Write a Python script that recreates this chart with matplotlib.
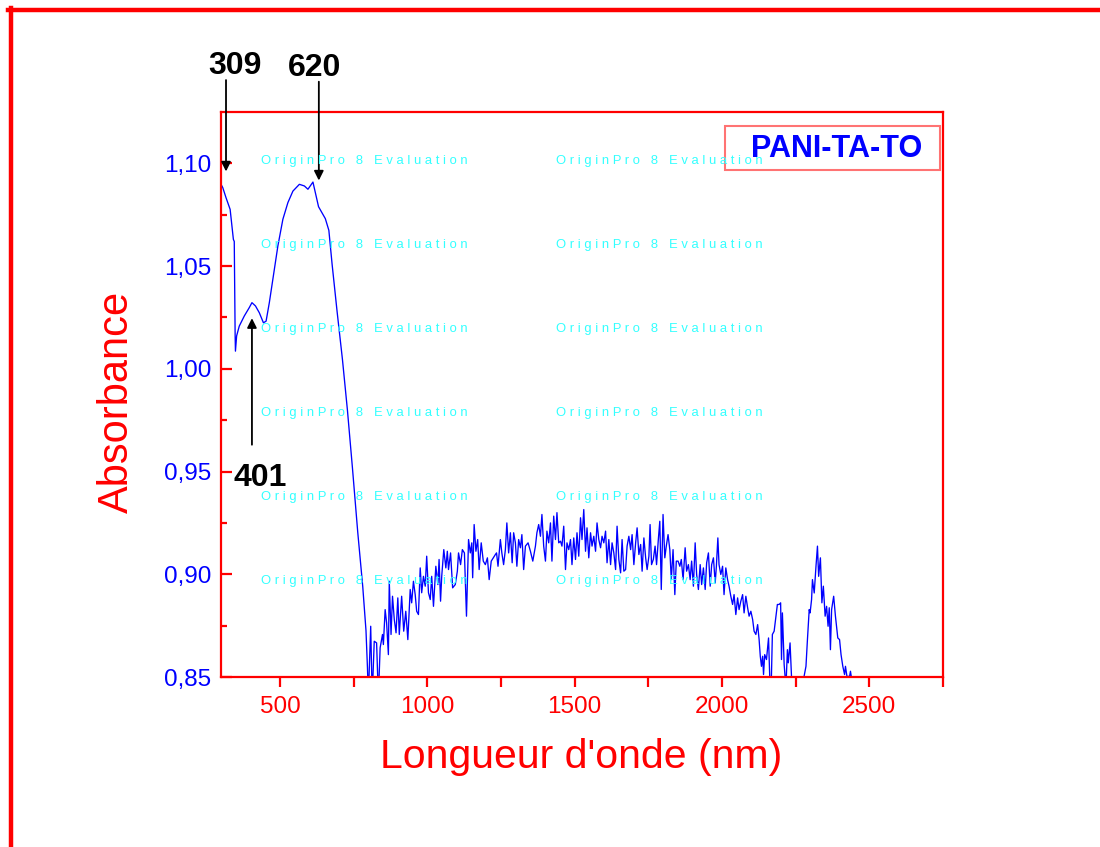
import matplotlib.pyplot as plt
from matplotlib.lines import Line2D
from matplotlib.patches import Rectangle

plt.rcParams['font.family'] = ['Liberation Sans', 'DejaVu Sans']

# UV-visible part of the spectrum
wl_vis = [300, 306, 317, 331, 337, 342, 345, 348, 349, 353, 362, 379, 396, 405,
          417, 430, 444, 453, 464, 476, 493, 510, 527, 544, 566, 583, 595, 612,
          631, 654, 666, 677, 694, 712, 729, 746, 764, 781, 792, 797, 800]
abs_vis = [1.0898, 1.0882, 1.0833, 1.0776, 1.0695, 1.0630, 1.0620, 1.0159, 1.0086,
           1.0160, 1.0208, 1.0257, 1.0298, 1.0322, 1.0306, 1.0273, 1.0224, 1.0232,
           1.0322, 1.0435, 1.0598, 1.0728, 1.0809, 1.0865, 1.0898, 1.0890, 1.0874,
           1.0909, 1.0789, 1.0731, 1.0674, 1.0509, 1.0278, 1.0047, 0.9799, 0.9518,
           0.9205, 0.8940, 0.8726, 0.8544, 0.8400]

# near infrared part (noisy)
wl_nir = [808, 813, 820, 828, 834, 840, 848, 851, 857, 862, 868, 871, 877, 882,
          888, 894, 900, 905, 913, 920, 927, 934, 942, 947, 953, 959, 964, 970,
          976, 981, 987, 993, 998, 1004, 1010, 1015, 1021, 1029, 1036, 1040, 1045,
          1049, 1056, 1063, 1068, 1072, 1079, 1086, 1095, 1102, 1106, 1113, 1119,
          1126, 1133, 1140, 1146, 1151, 1154, 1159, 1165, 1171, 1176, 1183, 1190,
          1197, 1204, 1210, 1217, 1224, 1231, 1235, 1240,
          1248, 1253, 1259, 1265, 1270, 1276, 1282, 1288, 1293, 1299, 1304, 1310,
          1316, 1321, 1327, 1333, 1342, 1350, 1358, 1367, 1372, 1378, 1384, 1389,
          1395, 1401, 1406, 1412, 1418, 1423, 1429, 1435, 1440, 1446, 1452, 1457,
          1463, 1469, 1474, 1480, 1486, 1491, 1497, 1503, 1508, 1514, 1520, 1525,
          1531, 1537, 1542, 1548, 1554, 1559, 1565, 1571, 1576, 1582, 1588, 1593,
          1599, 1605, 1610, 1616, 1622, 1627, 1633, 1639, 1644, 1650, 1656, 1661,
          1667,
          1673, 1678, 1684, 1690, 1695, 1701, 1707, 1712, 1718, 1724, 1729, 1735,
          1741, 1746, 1752, 1756, 1761, 1767, 1773, 1778, 1784, 1789, 1794, 1800,
          1806, 1811, 1817, 1823, 1828, 1834, 1840, 1845, 1851, 1857, 1862, 1868,
          1875, 1880, 1886, 1892, 1897, 1903, 1909, 1914, 1920, 1926, 1931, 1937,
          1943, 1948, 1954, 1960, 1965, 1971, 1977, 1981, 1986, 1990, 1996, 2002,
          2007, 2013, 2019, 2024, 2030, 2036, 2041, 2047, 2053, 2058, 2064, 2070,
          2075, 2081, 2087, 2092, 2098, 2104, 2109, 2115, 2121, 2126,
          2130, 2134, 2138, 2141, 2145, 2151, 2158, 2162, 2167, 2171, 2177, 2183,
          2188, 2194, 2199, 2202, 2205, 2211, 2217, 2222, 2225, 2231, 2239, 2265,
          2285, 2290, 2296, 2299, 2304, 2307, 2313, 2319, 2324, 2328, 2334, 2339,
          2344, 2350, 2355, 2360, 2364, 2368, 2372, 2379, 2385, 2393, 2399, 2404,
          2410, 2416, 2419, 2424, 2433, 2436, 2440]
abs_nir = [0.8747, 0.8400, 0.8674, 0.8666, 0.8400, 0.8642, 0.8707, 0.8658, 0.8828,
           0.8763, 0.8609, 0.8966, 0.8707, 0.8893, 0.8780, 0.8715, 0.8885, 0.8707,
           0.8893, 0.8723, 0.8820, 0.8682, 0.8926, 0.8861, 0.8966, 0.8901, 0.8820,
           0.8804, 0.9031, 0.8910, 0.8990, 0.8942, 0.9088, 0.8910, 0.8877, 0.8990,
           0.8844, 0.9039, 0.8950, 0.9072, 0.8869, 0.8990, 0.9120, 0.9031, 0.9112,
           0.9023, 0.9104, 0.8934, 0.8950, 0.9015, 0.9104, 0.9047, 0.9120, 0.9104,
           0.8796, 0.9169, 0.9104, 0.9153, 0.8983, 0.9242, 0.9112, 0.9169, 0.9023,
           0.9153, 0.9064, 0.9047, 0.9080, 0.8974, 0.9064, 0.9080, 0.9096, 0.9104,
           0.9039,
           0.9169, 0.9104, 0.9047, 0.9120, 0.9250, 0.9104, 0.9202, 0.9056, 0.9202,
           0.9153, 0.9039, 0.9169, 0.9129, 0.9193, 0.9023, 0.9137, 0.9153, 0.9112,
           0.9064, 0.9137, 0.9202, 0.9242, 0.9185, 0.9291, 0.9137, 0.9064, 0.9210,
           0.9153, 0.9250, 0.9064, 0.9283, 0.9169, 0.9300, 0.9153, 0.9161, 0.9137,
           0.9234, 0.9023, 0.9153, 0.9120, 0.9169, 0.9047, 0.9177, 0.9072, 0.9202,
           0.9088, 0.9275, 0.9169, 0.9315, 0.9112, 0.9226, 0.9080, 0.9202, 0.9137,
           0.9185, 0.9112, 0.9250, 0.9169, 0.9129, 0.9185, 0.9153, 0.9210, 0.9056,
           0.9169, 0.9047, 0.9153, 0.9104, 0.9023, 0.9234, 0.9072, 0.9007, 0.9169,
           0.9015,
           0.9023, 0.9137, 0.9185, 0.9120, 0.9193, 0.9047, 0.9153, 0.9226, 0.9096,
           0.9145, 0.9015, 0.9177, 0.9080, 0.9023, 0.9088, 0.9242, 0.9047, 0.9072,
           0.9137, 0.9047, 0.9169, 0.9258, 0.8926, 0.9291, 0.9080, 0.9137, 0.9193,
           0.9120, 0.8974, 0.9120, 0.8901, 0.9064, 0.9064, 0.9039, 0.9072, 0.8974,
           0.9129, 0.9015, 0.9047, 0.8974, 0.9064, 0.8942, 0.9153, 0.8999, 0.8926,
           0.9047, 0.8950, 0.9031, 0.8926, 0.9056, 0.9104, 0.8942, 0.9047, 0.9080,
           0.8958, 0.9039, 0.9177, 0.9047, 0.8999, 0.9039, 0.8901, 0.9031, 0.8974,
           0.8942, 0.8893, 0.8853, 0.8901, 0.8804, 0.8885, 0.8828, 0.8869, 0.8901,
           0.8812, 0.8893, 0.8837, 0.8796, 0.8820, 0.8780, 0.8723, 0.8707, 0.8755,
           0.8682,
           0.8601, 0.8552, 0.8601, 0.8512, 0.8609, 0.8585, 0.8690, 0.8503, 0.8450,
           0.8707, 0.8723, 0.8796, 0.8853, 0.8853, 0.8861, 0.8585, 0.8812, 0.8560,
           0.8450, 0.8633, 0.8569, 0.8666, 0.8400, 0.8400, 0.8552, 0.8682, 0.8828,
           0.8812, 0.8877, 0.8974, 0.8909, 0.9039, 0.9137, 0.8990, 0.9080, 0.8861,
           0.8942, 0.8796, 0.8844, 0.8747, 0.8837, 0.8633, 0.8828, 0.8893, 0.8796,
           0.8690, 0.8682, 0.8609, 0.8552, 0.8512, 0.8552, 0.8503, 0.8503, 0.8528,
           0.8490]

x_ticks = [500, 1000, 1500, 2000, 2500]
x_tick_labels = ['500', '1000', '1500', '2000', '2500']
x_minor = [750, 1250, 1750, 2250, 2750]
y_ticks = [0.85, 0.90, 0.95, 1.00, 1.05, 1.10]
y_tick_labels = ['0,85', '0,90', '0,95', '1,00', '1,05', '1,10']
y_minor = [0.875, 0.925, 0.975, 1.025, 1.075]

W, H = 1100, 847


def fx(px):
    return px / W


def fy(py):
    return 1 - py / H


fig = plt.figure(figsize=(W / 100, H / 100), dpi=100)
ax = fig.add_axes([fx(221), fy(677), (943 - 221) / W, (677 - 112) / H])

ax.plot(wl_vis + wl_nir, abs_vis + abs_nir, color='#0000FF', lw=0.95)
ax.set_xlim(300, 2750)
ax.set_ylim(0.85, 1.125)

for s in ax.spines.values():
    s.set_color('red')
    s.set_linewidth(1.6)

ax.set_xticks(x_ticks, x_tick_labels)
ax.set_xticks(x_minor, minor=True)
ax.set_yticks(y_ticks, y_tick_labels)
ax.set_yticks(y_minor, minor=True)
ax.tick_params(axis='x', which='both', direction='out', length=7, width=1.6,
               color='red', labelcolor='red', labelsize=17.5, pad=7)
ax.tick_params(axis='y', which='major', direction='in', length=8, width=1.6,
               color='red', labelcolor='#0000FF', labelsize=17.5, pad=7)
ax.tick_params(axis='y', which='minor', direction='in', length=4.5, width=1.6,
               color='red')

# axis titles
fig.text(fx(581), fy(757), "Longueur d'onde (nm)", color='red', fontsize=29.5,
         ha='center', va='center')
fig.text(fx(117), fy(402), 'Absorbance', color='red', fontsize=30,
         rotation=90, ha='center', va='center')

# peak annotations
arrow = dict(arrowstyle='-|>', color='black', lw=1.3, mutation_scale=14)
ax.annotate('', xy=(317, 1.0947), xytext=(317, 1.1419), arrowprops=arrow,
            annotation_clip=False)
ax.annotate('', xy=(632, 1.0903), xytext=(632, 1.1411), arrowprops=arrow,
            annotation_clip=False)
ax.annotate('', xy=(405, 1.026), xytext=(405, 0.9617), arrowprops=arrow,
            annotation_clip=False)
ax.text(348, 1.1475, '309', fontsize=23, fontweight='bold', ha='center',
        va='center', clip_on=False)
ax.text(616, 1.1462, '620', fontsize=23, fontweight='bold', ha='center',
        va='center', clip_on=False)
ax.text(433, 0.9468, '401', fontsize=23, fontweight='bold', ha='center',
        va='center', clip_on=False)

# watermark
for py in [161, 245, 329, 413, 497, 581]:
    for px in [261, 556]:
        fig.text(fx(px), fy(py), 'O r i g i n P r o   8   E v a l u a t i o n',
                 color='#33FFFF', fontsize=9.4, ha='left', va='center')

# sample label box
fig.patches.append(Rectangle((fx(725), fy(170)), 215 / W, 44 / H,
                             transform=fig.transFigure, fill=False,
                             ec=(1, 0, 0, 0.55), lw=1.5))
fig.text(fx(837), fy(149), 'PANI-TA-TO', color='#0000FF', fontsize=22,
         fontweight='bold', ha='center', va='center')

# outer red frame (top and left only visible)
fig.add_artist(Line2D([fx(8), 1], [fy(10.5), fy(10.5)], color='red', lw=3.2,
                      transform=fig.transFigure))
fig.add_artist(Line2D([fx(10.5), fx(10.5)], [fy(8), 0], color='red', lw=3.2,
                      transform=fig.transFigure))

fig.savefig('out.png', dpi=100)
plt.close(fig)
